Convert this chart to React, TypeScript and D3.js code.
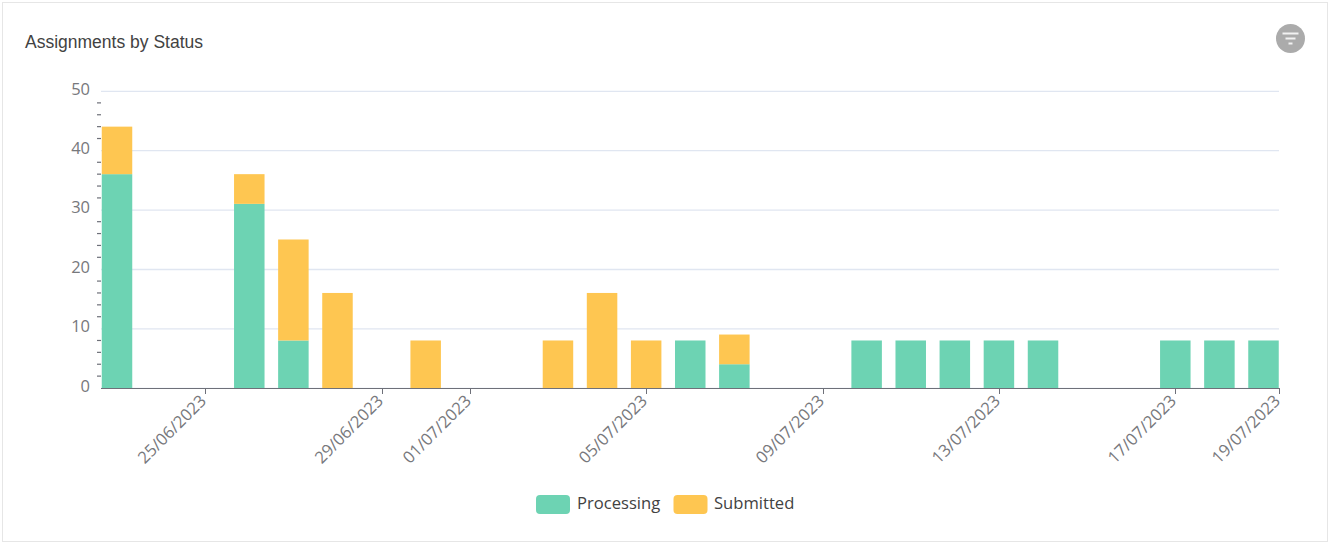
import * as d3 from "d3";

const dates = [
  "23/06/2023", "26/06/2023", "27/06/2023", "28/06/2023", "30/06/2023",
  "03/07/2023", "04/07/2023", "05/07/2023", "06/07/2023", "07/07/2023",
  "10/07/2023", "11/07/2023", "12/07/2023", "13/07/2023", "14/07/2023",
  "17/07/2023", "18/07/2023", "19/07/2023",
];
const processing = [36, 31, 8, 0, 0, 0, 0, 0, 8, 4, 8, 8, 8, 8, 8, 8, 8, 8];
const submitted = [8, 5, 17, 16, 8, 8, 16, 8, 0, 5, 0, 0, 0, 0, 0, 0, 0, 0];
const seriesNames = ["Processing", "Submitted"];
const seriesColors = ["#6dd3b3", "#fec651"];
const xTickLabels = [
  "25/06/2023", "29/06/2023", "01/07/2023", "05/07/2023",
  "09/07/2023", "13/07/2023", "17/07/2023", "19/07/2023",
];
const yTicks = [0, 10, 20, 30, 40, 50];
const yMinorTicks = d3.range(0, 50, 2).filter((v) => v % 10 !== 0);

const parseDate = d3.timeParse("%d/%m/%Y");
const tickFont = "'Open Sans', sans-serif";

export default function App() {
  const width = 1330;
  const height = 544;
  const margin = { left: 101, right: 51, top: 91, bottom: 156 };
  const plotRight = width - margin.right;
  const plotBottom = height - margin.bottom;

  const x = d3.scaleTime()
    .domain([parseDate(dates[0])!, parseDate(dates[dates.length - 1])!])
    .range([margin.left + 16, plotRight - 15.5]);
  const y = d3.scaleLinear().domain([0, 50]).range([plotBottom, margin.top]);
  const barWidth = 30.5;

  const rows = dates.map((d, i) => ({ date: parseDate(d)!, Processing: processing[i], Submitted: submitted[i] }));
  const stacked = d3.stack<any>().keys(seriesNames)(rows);

  // the last label sits on the axis end, not on its own day
  const tickX = (label: string, i: number) =>
    i === xTickLabels.length - 1 ? plotRight : x(parseDate(label)!);

  return (
    <svg width={width} height={height} style={{ position: "absolute", left: 0, top: 0, background: "#fff" }}>
      <rect x={2.5} y={2.5} width={1325} height={539} fill="#fff" stroke="#e6e6e6" />
      <text x={25} y={47.5} fontFamily="'Liberation Sans', Arial, sans-serif" fontSize={17.5} fill="#424242">
        Assignments by Status
      </text>

      {/* filter button */}
      <circle cx={1290.5} cy={38.5} r={14.5} fill="#ababab" />
      <path d="M1282.5 33.5h16M1285.5 38.5h10M1288.5 43.5h4" stroke="#f2f2f2" strokeWidth={2} />

      {/* grid */}
      {yTicks.map((t) => (
        <line key={t} x1={margin.left} x2={plotRight} y1={y(t) + 0.3} y2={y(t) + 0.3} stroke="#e0e6f1" strokeWidth={1.3} />
      ))}
      {yMinorTicks.map((t) => (
        <line key={t} x1={margin.left - 4} x2={margin.left} y1={y(t)} y2={y(t)} stroke="#6e7079" strokeWidth={1.2} />
      ))}
      {yTicks.map((t) => (
        <text key={t} x={90} y={y(t)} dy="0.22em" textAnchor="end" fontFamily={tickFont} fontSize={16.5} fill="#77787c">
          {t}
        </text>
      ))}

      {/* bars */}
      {stacked.map((s, si) =>
        s.map((d, i) =>
          d[1] > d[0] ? (
            <rect
              key={`${si}-${i}`}
              x={x(rows[i].date) - barWidth / 2}
              y={y(d[1])}
              width={barWidth}
              height={y(d[0]) - y(d[1])}
              fill={seriesColors[si]}
            />
          ) : null,
        ),
      )}

      {/* x axis */}
      <line x1={margin.left} x2={plotRight} y1={plotBottom + 0.5} y2={plotBottom + 0.5} stroke="#6e7079" strokeWidth={1.2} />
      {xTickLabels.map((label, i) => {
        const tx = Math.round(tickX(label, i)) + 0.5;
        return (
          <g key={label} transform={`translate(${tx},${plotBottom})`}>
            <line y1={0} y2={6} stroke="#6e7079" strokeWidth={1} />
            <text
              transform="translate(-2.5,10) rotate(-45)"
              textAnchor="end"
              dy="0.35em"
              fontFamily={tickFont}
              fontSize={16.6}
              fill="#77787c"
            >
              {label}
            </text>
          </g>
        );
      })}

      {/* legend */}
      {[{ x0: 536, tx: 577 }, { x0: 673.5, tx: 714 }].map((l, i) => (
        <g key={i}>
          <rect x={l.x0} y={495} width={34} height={19} rx={4} fill={seriesColors[i]} />
          <text x={l.tx} y={509} fontFamily={tickFont} fontSize={16.6} fill="#424242">
            {seriesNames[i]}
          </text>
        </g>
      ))}
    </svg>
  );
}
